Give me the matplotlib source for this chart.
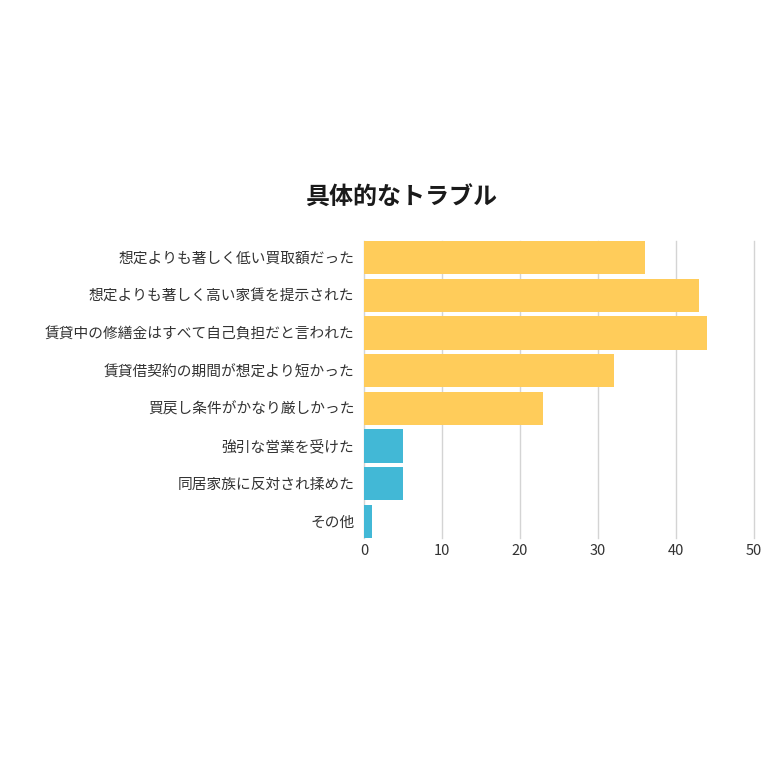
import matplotlib.pyplot as plt

plt.rcParams['font.family'] = ['Noto Sans CJK JP', 'DejaVu Sans']

categories = [
    "想定よりも著しく低い買取額だった",
    "想定よりも著しく高い家賃を提示された",
    "賃貸中の修繕金はすべて自己負担だと言われた",
    "賃貸借契約の期間が想定より短かった",
    "買戻し条件がかなり厳しかった",
    "強引な営業を受けた",
    "同居家族に反対され揉めた",
    "その他",
]
values = [36, 43, 44, 32, 23, 5, 5, 1]
groups = ["a", "a", "a", "a", "a", "b", "b", "b"]
group_colors = {"a": "#FFCC5A", "b": "#42B8D6"}
xticks = [0, 10, 20, 30, 40, 50]

fig = plt.figure(figsize=(7.8, 7.8), dpi=100)
ax = fig.add_axes([364 / 780, 1 - 538 / 780, 390 / 780, 297 / 780])

bar_h = 0.88
ypos = list(range(len(categories)))
ax.barh(ypos, values, height=bar_h,
        color=[group_colors[g] for g in groups], zorder=2)

ax.set_xlim(0, 50)
ax.set_ylim(len(categories) - 1 + bar_h / 2, -bar_h / 2)
ax.set_yticks(ypos)
ax.set_yticklabels(categories, fontsize=10.6, color="#333333")
ax.set_xticks(xticks)
ax.set_xticklabels([str(t) for t in xticks], fontsize=10.5, color="#333333")
ax.tick_params(length=0, pad=7)
ax.tick_params(axis="x", pad=4)

ax.grid(axis="x", color="#d4d4d4", linewidth=1, zorder=0)
for gl in ax.get_xgridlines():
    gl.set_clip_on(False)
for s in ax.spines.values():
    s.set_visible(False)

fig.text(402 / 780, 1 - 198 / 780, "具体的なトラブル", ha="center", va="center",
         fontsize=17.3, weight="bold", color="#1a1a1a")

fig.savefig("out.png", dpi=100, facecolor="white")
